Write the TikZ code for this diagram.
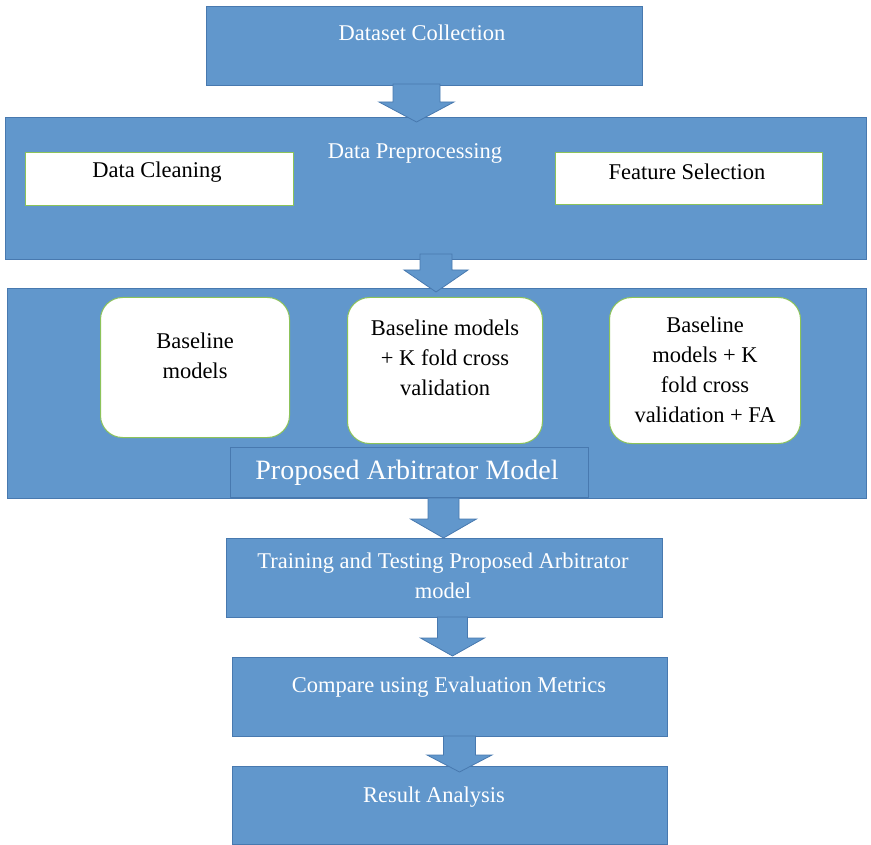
\documentclass[tikz,border=0pt]{standalone}
\usepackage{fontspec}
\setmainfont{Liberation Serif}
\newfontfamily\labelfont{Liberation Serif}
\usepackage{tikz}
\usetikzlibrary{calc}

\definecolor{stageblue}{RGB}{97,151,204}
\definecolor{stageedge}{RGB}{72,121,175}
\definecolor{leafedge}{RGB}{140,195,90}

% block arrow: start, tip, shaft half width, head half width, head length
\newcommand{\flowarr}[5]{%
  \path[flowarrow] let \p1=(#1), \p2=(#2) in
    (\x1-#3pt,\y1) -- (\x1+#3pt,\y1) -- (\x1+#3pt,\y2+#5pt) -- (\x1+#4pt,\y2+#5pt)
    -- (\x1,\y2) -- (\x1-#4pt,\y2+#5pt) -- (\x1-#3pt,\y2+#5pt) -- cycle;}

\begin{document}
\begin{tikzpicture}[x=1pt,y=-1pt,
  stage/.style={draw=stageedge,fill=stageblue,line width=1pt,anchor=north west,inner sep=0pt},
  leaf/.style={draw=leafedge,fill=white,line width=1pt,anchor=north west,inner sep=0pt},
  flowarrow/.style={draw=stageedge,fill=stageblue,line width=0.8pt},
  wtxt/.style={text=white,font=\labelfont\fontsize{22.5}{30}\selectfont,align=center,inner sep=0pt},
  btxt/.style={text=black,font=\labelfont\fontsize{22.5}{30}\selectfont,align=center,inner sep=0pt}]
\useasboundingbox (0,0) rectangle (871,845);

% stages
\node[stage,minimum width=436,minimum height=79] (collect) at (206,6) {};
\node[stage,minimum width=861,minimum height=142] (prep) at (5,117) {};
\node[stage,minimum width=859,minimum height=210] (model) at (7,288) {};
\node[stage,minimum width=436,minimum height=79] (train) at (226,538) {};
\node[stage,minimum width=435,minimum height=79] (compare) at (232,657) {};
\node[stage,minimum width=435,minimum height=78] (result) at (232,766) {};

% preprocessing steps
\node[leaf,minimum width=268,minimum height=53] (clean) at (25,152) {};
\node[leaf,minimum width=267,minimum height=52] (select) at (555,152) {};

% model variants
\foreach \nm/\x/\w/\h in {base/100/189/140,kfold/347/195/146,kfa/609/191/146}
  \node[leaf,rounded corners=22pt,minimum width=\w,minimum height=\h] (\nm) at (\x,297) {};
\node[stage,minimum width=358,minimum height=50] (prop) at (230,447) {};

% labels
\node[wtxt] (collecttxt) at (422,33) {Dataset Collection};
\node[wtxt] (preptxt) at (415,153) {Data Preprocessing};
\node[btxt] (cleantxt) at (157,172) {Data Cleaning};
\node[btxt] (selecttxt) at (687,172) {Feature Selection};
\node[btxt] (basetxt) at (195,356) {Baseline\\models};
\node[btxt] (kfoldtxt) at (445,358) {Baseline models\\+ K fold cross\\validation};
\node[btxt] (kfatxt) at (705,370) {Baseline\\models + K\\fold cross\\validation + FA};
\node[wtxt,font=\labelfont\fontsize{28}{34}\selectfont] (proptxt) at (407,473) {Proposed Arbitrator Model};
\node[wtxt] (traintxt) at (443,576) {Training and Testing Proposed Arbitrator\\model};
\node[wtxt] (comparetxt) at (449,687) {Compare using Evaluation Metrics};
\node[wtxt] (resulttxt) at (434,797) {Result Analysis};

% flow
\flowarr{$(collect.south)+(-8,-2)$}{$(prep.north)+(0,5)$}{23.5}{37.5}{20}
\flowarr{$(prep.south)+(0,-6)$}{$(model.north)+(0,4)$}{16}{32}{22}
\flowarr{$(model.south)+(6.5,-1)$}{$(train.north)$}{15.5}{33}{19}
\flowarr{$(train.south)+(8,-1)$}{$(compare.north)+(0,-1)$}{15}{32}{18}
\flowarr{$(compare.south)+(9.5,-1)$}{$(result.north)+(0,6)$}{16}{32.5}{17}
\end{tikzpicture}
\end{document}
